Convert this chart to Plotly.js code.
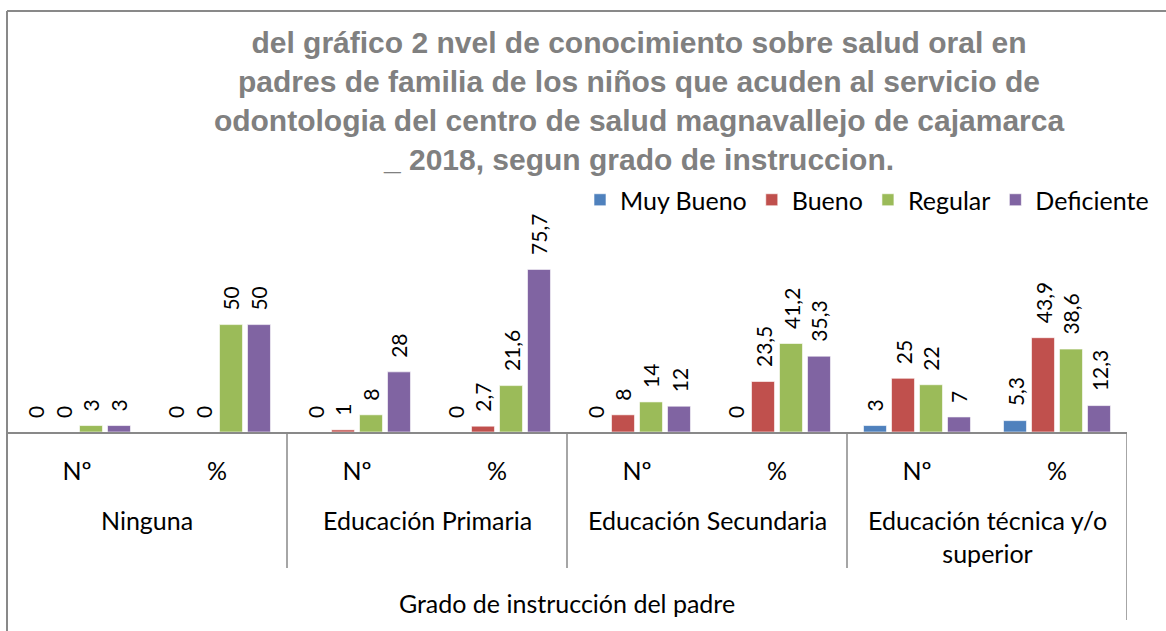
<!DOCTYPE html>
<html>
<head>
<meta charset="utf-8">
<script src="https://cdn.plot.ly/plotly-3.0.1.min.js"></script>
<style>
  html, body { margin: 0; padding: 0; background: #ffffff; }
  #chart { width: 1166px; height: 631px; }
</style>
</head>
<body>
<div id="chart"></div>
<script>
// ---- data ----
const subCategories = ["Nº", "%", "Nº", "%", "Nº", "%", "Nº", "%"];
const groupLabels = ["Ninguna", "Educación Primaria", "Educación Secundaria", "Educación técnica y/o<br>superior"];
const axisTitle = "Grado de instrucción del padre";
const seriesNames = ["Muy Bueno", "Bueno", "Regular", "Deficiente"];
const muyBueno   = [0, 0, 0, 0,    0, 0,    3, 5.3];
const bueno      = [0, 0, 1, 2.7,  8, 23.5, 25, 43.9];
const regular    = [3, 50, 8, 21.6, 14, 41.2, 22, 38.6];
const deficiente = [3, 50, 28, 75.7, 12, 35.3, 7, 12.3];
const titleLines = [
  "del gráfico 2 nvel de conocimiento sobre salud oral en",
  "padres de familia de los niños que acuden al servicio de",
  "odontologia del centro de salud magnavallejo de cajamarca",
  "_ 2018, segun grado de instruccion."
];

// ---- styling / layout constants ----
const colors = ["#4F81BD", "#C0504D", "#9BBB59", "#8064A2"];
const W = 1166, H = 631;
const PL = 7, PR = 1127, PT = 190, PB = 432;   // plot area in px
const plotH = PB - PT;
const gray = "#898989";
const bodyFont = "Lato, 'Open Sans', sans-serif";
const bargap = 0.2;
const nSeries = 4;

function pyToPaper(py) { return (PB - py) / plotH; }
function pxToPaper(px) { return (px - PL) / (PR - PL); }

const allSeries = [muyBueno, bueno, regular, deficiente];
const xIdx = subCategories.map((_, i) => i);

const traces = allSeries.map((vals, s) => ({
  type: "bar",
  name: seriesNames[s],
  x: xIdx,
  y: vals,
  marker: { color: colors[s], line: { color: "#ffffff", width: 0.6 } },
  hoverinfo: "none"
}));

// data labels (rotated) placed through the axes
const annotations = [];
const slot = (1 - bargap) / nSeries;
allSeries.forEach((vals, s) => {
  vals.forEach((v, i) => {
    annotations.push({
      x: i - (1 - bargap) / 2 + slot * (s + 0.5),
      y: v,
      xref: "x", yref: "y",
      text: String(v).replace(".", ","),
      textangle: -90,
      showarrow: false,
      xanchor: "center", yanchor: "bottom",
      yshift: 12,
      font: { family: bodyFont, size: 21, color: "#000000" }
    });
  });
});

// group labels
groupLabels.forEach((g, k) => {
  annotations.push({
    x: 2 * k + 0.5, y: 0,
    xref: "x", yref: "paper",
    text: g,
    showarrow: false,
    xanchor: "center", yanchor: "top",
    yshift: -71,
    font: { family: bodyFont, size: 25, color: "#000000" }
  });
});

// shapes: chart border and dividers
const shapes = [];
shapes.push({ type: "line", xref: "paper", yref: "paper",
  x0: pxToPaper(7), x1: pxToPaper(7), y0: pyToPaper(631), y1: pyToPaper(11),
  line: { color: gray, width: 2 } });
shapes.push({ type: "line", xref: "paper", yref: "paper",
  x0: pxToPaper(7), x1: pxToPaper(1166), y0: pyToPaper(11), y1: pyToPaper(11),
  line: { color: gray, width: 2 } });
for (let k = 1; k <= groupLabels.length; k++) {
  const xb = 2 * k - 0.5;
  const last = k === groupLabels.length;
  shapes.push({ type: "line", xref: "x", yref: "paper",
    x0: xb, x1: xb, y0: 0, y1: pyToPaper(last ? 620 : 568),
    line: { color: gray, width: 1.5 } });
}

const layout = {
  width: W, height: H,
  margin: { l: PL, r: W - PR, t: PT, b: H - PB, pad: 0 },
  paper_bgcolor: "#ffffff",
  plot_bgcolor: "#ffffff",
  barmode: "group",
  bargap: bargap,
  bargroupgap: 0.18,
  title: {
    text: titleLines.join("<br>"),
    font: { family: "'Liberation Sans', Arial, sans-serif", size: 30, color: "#808080", weight: 700 },
    x: 639 / W, xanchor: "center", xref: "container",
    y: 1 - 53 / H, yanchor: "top", yref: "container"
  },
  showlegend: true,
  legend: {
    orientation: "h",
    x: pxToPaper(1154), xanchor: "right",
    y: pyToPaper(200), yanchor: "middle",
    font: { family: bodyFont, size: 25, color: "#000000" },
    bgcolor: "rgba(0,0,0,0)",
    itemwidth: 30,
    traceorder: "normal"
  },
  xaxis: {
    range: [-0.5, subCategories.length - 0.5],
    tickvals: xIdx,
    ticktext: subCategories,
    tickfont: { family: bodyFont, size: 25, color: "#000000" },
    ticks: "",
    ticklabelstandoff: 16,
    showline: true, linecolor: gray, linewidth: 2,
    showgrid: false, zeroline: false,
    fixedrange: true,
    title: { text: axisTitle, font: { family: bodyFont, size: 25, color: "#000000" }, standoff: 111 }
  },
  yaxis: {
    range: [0, plotH / 2.148],
    visible: false,
    showgrid: false, zeroline: false, fixedrange: true
  },
  annotations: annotations,
  shapes: shapes
};

Plotly.newPlot("chart", traces, layout, { displayModeBar: false, staticPlot: true });
</script>
</body>
</html>
